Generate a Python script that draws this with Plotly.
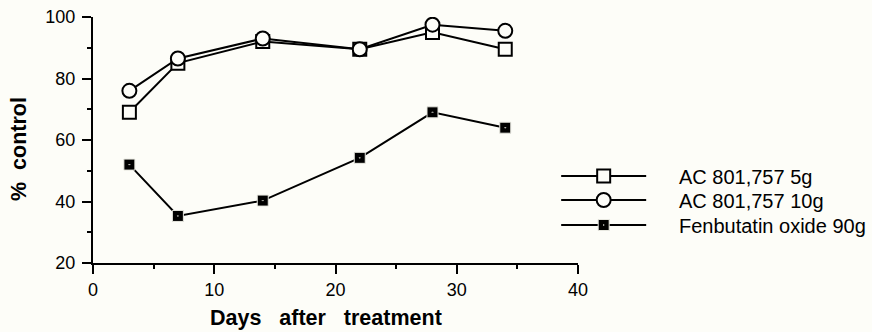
import plotly.graph_objects as go

days = [3, 7, 14, 22, 28, 34]
ac5g = [69, 85, 92, 89.5, 95, 89.5]
ac10g = [76, 86.5, 93, 89.5, 97.5, 95.5]
fenbutatin = [52, 35.3, 40.3, 54.2, 69, 64]
names = ["AC 801,757 5g", "AC 801,757 10g", "Fenbutatin oxide 90g"]

BG = "#fdfdf8"
FONT = "Liberation Sans, Arial, Helvetica, sans-serif"
PAD = "\u00a0" * 5
SP = "\u00a0" * 3

fig = go.Figure()
fig.add_trace(go.Scatter(x=days, y=ac5g, name=PAD + names[0], mode="lines+markers",
                         legend="legend",
                         line=dict(color="black", width=2),
                         marker=dict(symbol="square", size=13, color=BG,
                                     line=dict(color="black", width=2))))
fig.add_trace(go.Scatter(x=days, y=ac10g, name=PAD + names[1], mode="lines+markers",
                         legend="legend2",
                         line=dict(color="black", width=2),
                         marker=dict(symbol="circle", size=14, color=BG,
                                     line=dict(color="black", width=2))))
fig.add_trace(go.Scatter(x=days, y=fenbutatin, name=PAD + names[2], mode="lines+markers",
                         legend="legend3",
                         line=dict(color="black", width=2),
                         marker=dict(symbol="square-dot", size=11, color="black",
                                     line=dict(color="#e8e8e0", width=1))))

axis_common = dict(showline=True, linewidth=2, linecolor="black", showgrid=False,
                   zeroline=False, ticks="outside", ticklen=9, tickwidth=2,
                   tickcolor="black", tickfont=dict(family=FONT, size=18, color="black"))

fig.update_xaxes(range=[0, 40], dtick=10, tick0=0,
                 minor=dict(dtick=5, ticks="outside", ticklen=4, tickwidth=2, tickcolor="black"),
                 **axis_common)
fig.update_yaxes(range=[20, 100], dtick=20, tick0=20, ticklabelstandoff=3,
                 minor=dict(dtick=10, ticks="outside", ticklen=4, tickwidth=2, tickcolor="black"),
                 **axis_common)

fig.add_annotation(text="Days" + SP + "after" + SP + "treatment", xref="paper", yref="paper",
                   x=(326 - 93) / 485, y=(263 - 332) / 246, showarrow=False,
                   xanchor="center", yanchor="bottom",
                   font=dict(family=FONT, size=21.5, color="black", weight="bold"))
fig.add_annotation(text="%" + "\u00a0" * 2 + "control", xref="paper", yref="paper",
                   x=(19 - 93) / 485, y=(263 - 149) / 246, showarrow=False, textangle=-90,
                   xanchor="center", yanchor="middle",
                   font=dict(family=FONT, size=21.5, color="black", weight="bold"))

leg_common = dict(x=0.955, xanchor="left", yanchor="middle",
                  bgcolor="rgba(0,0,0,0)", itemwidth=85,
                  font=dict(family=FONT, size=20, color="black"))

fig.update_layout(
    width=872, height=332,
    margin=dict(l=93, r=294, t=17, b=69, autoexpand=False),
    paper_bgcolor=BG, plot_bgcolor=BG,
    showlegend=True,
    legend=dict(y=(263 - 176) / 246, **leg_common),
    legend2=dict(y=(263 - 200) / 246, **leg_common),
    legend3=dict(y=(263 - 225) / 246, **leg_common),
)

fig.write_html("out.html", config={"displayModeBar": False},
               post_script="document.body.style.margin='0';document.body.style.overflow='hidden';document.body.style.background='" + BG + "';")
